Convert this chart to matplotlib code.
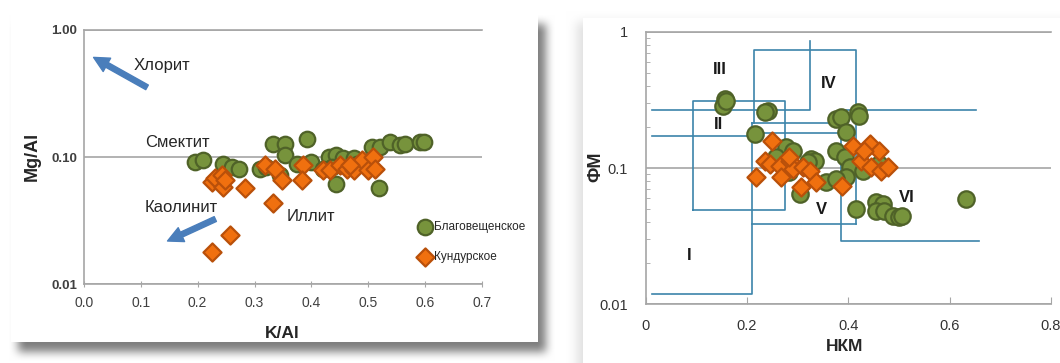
import numpy as np
import matplotlib
matplotlib.use('Agg')
import matplotlib.pyplot as plt
from matplotlib.ticker import FixedLocator, FixedFormatter, NullLocator, LogLocator, NullFormatter
from matplotlib.patches import FancyArrowPatch

plt.rcParams['font.family'] = ['Liberation Sans', 'DejaVu Sans']

# ---------------- data: left chart (K/Al vs Mg/Al) ----------------
blag_kal = [0.195, 0.210, 0.245, 0.260, 0.272, 0.310, 0.320, 0.333, 0.353, 0.392,
            0.353, 0.345, 0.400, 0.430, 0.444, 0.456, 0.444, 0.437, 0.420, 0.474,
            0.480, 0.506, 0.520, 0.538, 0.556, 0.564, 0.591, 0.597, 0.519, 0.374]
blag_mgal = [0.092, 0.095, 0.089, 0.084, 0.080, 0.081, 0.084, 0.128, 0.128, 0.138,
             0.104, 0.072, 0.092, 0.1005, 0.104, 0.098, 0.062, 0.084, 0.080, 0.098,
             0.089, 0.121, 0.121, 0.132, 0.124, 0.128, 0.132, 0.132, 0.0577, 0.089]
kund_kal = [0.225, 0.230, 0.242, 0.245, 0.248, 0.283, 0.332, 0.256, 0.225,
            0.318, 0.336, 0.348, 0.386, 0.383, 0.421, 0.433, 0.450, 0.462,
            0.474, 0.488, 0.500, 0.509, 0.512, 0.468]
kund_mgal = [0.064, 0.068, 0.072, 0.058, 0.066, 0.0567, 0.0437, 0.0243, 0.018,
             0.0865, 0.081, 0.066, 0.0865, 0.066, 0.079, 0.079, 0.0865, 0.081,
             0.079, 0.095, 0.079, 0.1005, 0.081, 0.0866]

left_xticks = [0.0, 0.1, 0.2, 0.3, 0.4, 0.5, 0.6, 0.7]
left_xticklabels = ['0.0', '0.1', '0.2', '0.3', '0.4', '0.5', '0.6', '0.7']
left_yticks = [0.01, 0.1, 1.0]
left_yticklabels = ['0.01', '0.10', '1.00']

mineral_labels = ['Хлорит', 'Смектит', 'Каолинит', 'Иллит']
mineral_x = [0.088, 0.107, 0.107, 0.357]
mineral_y = [0.53, 0.1296, 0.0402, 0.0343]
arrow_tails = [(0.111, 0.354), (0.231, 0.0326)]
arrow_heads = [(0.0170, 0.609), (0.147, 0.0219)]

# ---------------- data: right chart (НКМ vs ФМ) ----------------
blag_nkm = [0.1565, 0.153, 0.159, 0.242, 0.235, 0.2156, 0.278, 0.291, 0.327, 0.334,
            0.320, 0.304, 0.357, 0.376, 0.386, 0.420, 0.422, 0.396, 0.376, 0.393,
            0.4025, 0.396, 0.376, 0.429, 0.4157, 0.455, 0.468, 0.455, 0.471, 0.488,
            0.501, 0.507, 0.632, 0.284, 0.258, 0.4616]
blag_fm = [0.320, 0.286, 0.31, 0.263, 0.256, 0.1775, 0.142, 0.134, 0.116, 0.113,
           0.110, 0.0645, 0.0784, 0.229, 0.235, 0.256, 0.242, 0.1824, 0.134, 0.1196,
           0.101, 0.0853, 0.083, 0.0956, 0.050, 0.0559, 0.0544, 0.0486, 0.0486, 0.0447,
           0.0434, 0.0447, 0.0592, 0.093, 0.12, 0.107]
kund_nkm = [0.2504, 0.2175, 0.235, 0.245, 0.2648, 0.2844, 0.291, 0.268, 0.284,
            0.3106, 0.324, 0.337, 0.3075, 0.3874, 0.409, 0.4256, 0.442, 0.4616,
            0.445, 0.465, 0.478, 0.432]
kund_fm = [0.1586, 0.0853, 0.113, 0.107, 0.104, 0.113, 0.0983, 0.0853, 0.1196,
           0.101, 0.0956, 0.0784, 0.072, 0.0742, 0.146, 0.113, 0.150, 0.134,
           0.101, 0.0956, 0.101, 0.134]

right_xticks = [0, 0.2, 0.4, 0.6, 0.8]
right_xticklabels = ['0', '0.2', '0.4', '0.6', '0.8']
right_yticks = [0.01, 0.1, 1]
right_yticklabels = ['0.01', '0.1', '1']

field_labels = ['I', 'II', 'III', 'IV', 'V', 'VI']
field_x = [0.086, 0.145, 0.147, 0.362, 0.348, 0.516]
field_y = [0.0227, 0.21, 0.53, 0.417, 0.05, 0.061]

field_lines = [
    ([0.012, 0.21, 0.21], [0.012, 0.012, 0.214]),
    ([0.012, 0.21], [0.173, 0.173]),
    ([0.012, 0.324, 0.324], [0.266, 0.266, 0.85]),
    ([0.094, 0.276, 0.276, 0.094, 0.094], [0.049, 0.049, 0.312, 0.312, 0.049]),
    ([0.2136, 0.2136, 0.416, 0.416], [0.214, 0.734, 0.734, 0.039]),
    ([0.21, 0.386], [0.214, 0.214]),
    ([0.21, 0.386], [0.182, 0.182]),
    ([0.21, 0.416], [0.039, 0.039]),
    ([0.652, 0.386, 0.386, 0.658], [0.266, 0.266, 0.0293, 0.0293]),
]

# ---------------- styles ----------------
GREEN_FACE, GREEN_EDGE = '#77933c', '#4f6228'
ORANGE_FACE, ORANGE_EDGE = '#f0700f', '#b9500a'
GRID = '#a6a6a6'
BOX = '#3c84aa'
ARROW = '#4a7ebb'

W, H = 1060, 363
fig = plt.figure(figsize=(W / 100, H / 100), dpi=100)

# ---------------- background cards with shadows ----------------
def blur(a, r):
    k = 2 * r + 1
    c = np.cumsum(np.pad(a, ((r + 1, r), (0, 0)), mode='edge'), axis=0)
    a = (c[k:] - c[:-k]) / k
    c = np.cumsum(np.pad(a, ((0, 0), (r + 1, r)), mode='edge'), axis=1)
    return (c[:, k:] - c[:, :-k]) / k

img = np.ones((H, W))
sh = np.zeros((H, W))
sh[24:352, 18:546] = 1.0
sh = blur(blur(sh, 5), 4)
img -= 0.5 * sh
sh2 = np.zeros((H, W))
sh2[22:H, 577:W] = 1.0
sh2 = blur(blur(sh2, 6), 5)
img -= 0.12 * sh2
img[15:342, 11:538] = 1.0
img[18:H, 583:W] = 1.0
img = np.clip(img, 0, 1)
bg = fig.add_axes([0, 0, 1, 1], zorder=-10)
bg.imshow(np.dstack([img] * 3), aspect='auto', interpolation='nearest')
bg.axis('off')

# ---------------- left chart ----------------
axL = fig.add_axes([83.9 / W, 1 - 284.3 / H, (482.1 - 83.9) / W, (284.3 - 30) / H])
axL.set_facecolor('none')
axL.set_yscale('log')
axL.set_xlim(0, 0.7)
axL.set_ylim(0.01, 1.0)
axL.yaxis.set_major_locator(FixedLocator(left_yticks))
axL.yaxis.set_major_formatter(FixedFormatter(left_yticklabels))
axL.yaxis.set_minor_locator(NullLocator())
axL.xaxis.set_major_locator(FixedLocator(left_xticks))
axL.xaxis.set_major_formatter(FixedFormatter(left_xticklabels))
axL.grid(True, axis='y', color=GRID, lw=1.2)
axL.spines['right'].set_visible(False)
for s in ['left', 'bottom', 'top']:
    axL.spines[s].set_color(GRID)
    axL.spines[s].set_linewidth(1.2)
axL.tick_params(axis='y', length=0, pad=5, labelsize=9.5, labelcolor='#404040')
for t in axL.get_yticklabels():
    t.set_fontweight('bold')
axL.tick_params(axis='x', direction='inout', length=5, color=GRID, pad=6,
                labelsize=10, labelcolor='#404040')

axL.scatter(blag_kal, blag_mgal, s=125, c=GREEN_FACE, edgecolors=GREEN_EDGE,
            linewidths=1.6, zorder=3, label='Благовещенское')
axL.scatter(kund_kal, kund_mgal, s=85, marker='D', c=ORANGE_FACE, edgecolors=ORANGE_EDGE,
            linewidths=1.6, zorder=4, label='Кундурское')

for lab, x, y in zip(mineral_labels, mineral_x, mineral_y):
    axL.text(x, y, lab, ha='left', va='center', fontsize=12, color='#262626', zorder=5)
for tail, head in zip(arrow_tails, arrow_heads):
    axL.add_patch(FancyArrowPatch(tail, head,
                                  arrowstyle='simple,head_width=1.1,head_length=1.1,tail_width=0.38',
                                  mutation_scale=10, color=ARROW, shrinkA=0, shrinkB=0, zorder=5))

leg = axL.legend(loc='center left', bbox_to_anchor=(0.838, 0.166), frameon=False,
                 fontsize=8.5, handlelength=1.2, handletextpad=0.15, borderpad=0,
                 labelspacing=1.55, borderaxespad=0)
for t in leg.get_texts():
    t.set_color('#262626')

fig.text(32 / W, 1 - 156.7 / H, 'Mg/Al', rotation=90, ha='center', va='center',
         fontsize=13, fontweight='bold', color='#262626')
fig.text(282 / W, 1 - 333.3 / H, 'K/Al', ha='center', va='center',
         fontsize=12.5, fontweight='bold', color='#262626')

# ---------------- right chart ----------------
axR = fig.add_axes([645.5 / W, 1 - 304.3 / H, 405.5 / W, (304.3 - 31.7) / H])
axR.set_facecolor('none')
axR.set_yscale('log')
axR.set_xlim(0, 0.8)
axR.set_ylim(0.01, 1.0)
axR.yaxis.set_major_locator(FixedLocator(right_yticks))
axR.yaxis.set_major_formatter(FixedFormatter(right_yticklabels))
axR.yaxis.set_minor_locator(LogLocator(base=10, subs=np.arange(2, 10)))
axR.yaxis.set_minor_formatter(NullFormatter())
axR.xaxis.set_major_locator(FixedLocator(right_xticks))
axR.xaxis.set_major_formatter(FixedFormatter(right_xticklabels))
axR.grid(True, axis='y', which='major', color=GRID, lw=1.2)
axR.spines['right'].set_visible(False)
for s in ['left', 'bottom', 'top']:
    axR.spines[s].set_color(GRID)
    axR.spines[s].set_linewidth(1.2)
axR.tick_params(axis='y', which='major', length=0, pad=12.5, labelsize=10.5, labelcolor='#333333')
axR.tick_params(axis='y', which='minor', direction='in', length=3, color=GRID)
axR.tick_params(axis='x', direction='in', length=5, color=GRID, pad=10.5,
                labelsize=10.5, labelcolor='#333333')

for xs, ys in field_lines:
    axR.plot(xs, ys, color=BOX, lw=1.2, zorder=2)

axR.scatter(blag_nkm, blag_fm, s=140, c=GREEN_FACE, edgecolors=GREEN_EDGE,
            linewidths=1.6, zorder=3)
axR.scatter(kund_nkm, kund_fm, s=85, marker='D', c=ORANGE_FACE, edgecolors=ORANGE_EDGE,
            linewidths=1.6, zorder=4)

for lab, x, y in zip(field_labels, field_x, field_y):
    axR.text(x, y, lab, ha='center', va='center', fontsize=12, fontweight='bold',
             color='#1a1a1a', zorder=5)

fig.text(596 / W, 1 - 166.7 / H, 'ФМ', rotation=90, ha='center', va='center',
         fontsize=13, fontweight='bold', color='#262626')
fig.text(845 / W, 1 - 346.7 / H, 'НКМ', ha='center', va='center',
         fontsize=12.5, fontweight='bold', color='#262626')

fig.savefig('out.png', dpi=100)
